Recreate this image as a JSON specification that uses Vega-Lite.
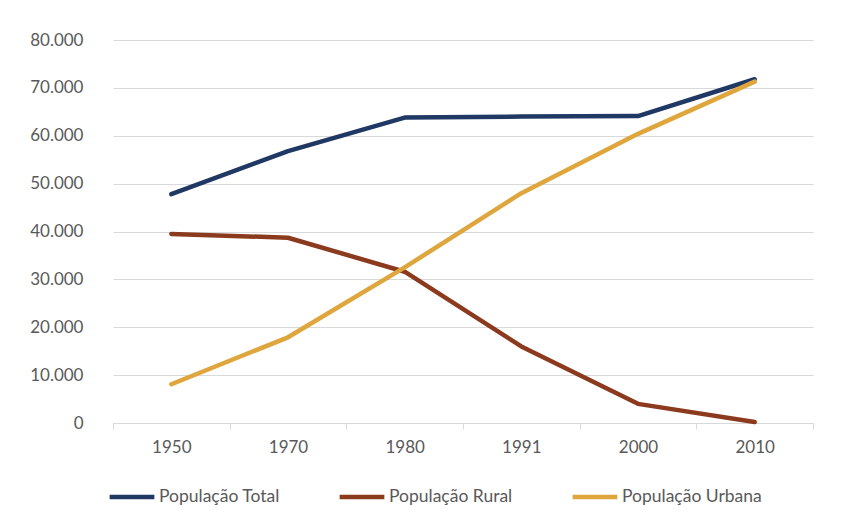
{
  "$schema": "https://vega.github.io/schema/vega-lite/v6.json",
  "width": 700,
  "height": 383,
  "autosize": {"type": "none"},
  "padding": {"left": 113, "top": 40, "right": 50, "bottom": 100},
  "background": "white",
  "config": {
    "view": {"stroke": null},
    "font": "Lato",
    "axis": {"labelFont": "Lato", "labelFontSize": 17, "labelColor": "#595959"},
    "legend": {"labelFont": "Lato", "labelFontSize": 17.5, "labelColor": "#595959"}
  },
  "data": {
    "values": [
      {"ano": "1950", "serie": "População Total", "valor": 47800},
      {"ano": "1970", "serie": "População Total", "valor": 56800},
      {"ano": "1980", "serie": "População Total", "valor": 63800},
      {"ano": "1991", "serie": "População Total", "valor": 64000},
      {"ano": "2000", "serie": "População Total", "valor": 64100},
      {"ano": "2010", "serie": "População Total", "valor": 71800},
      {"ano": "1950", "serie": "População Rural", "valor": 39500},
      {"ano": "1970", "serie": "População Rural", "valor": 38700},
      {"ano": "1980", "serie": "População Rural", "valor": 31600},
      {"ano": "1991", "serie": "População Rural", "valor": 16000},
      {"ano": "2000", "serie": "População Rural", "valor": 4000},
      {"ano": "2010", "serie": "População Rural", "valor": 200},
      {"ano": "1950", "serie": "População Urbana", "valor": 8100},
      {"ano": "1970", "serie": "População Urbana", "valor": 17900},
      {"ano": "1980", "serie": "População Urbana", "valor": 32500},
      {"ano": "1991", "serie": "População Urbana", "valor": 48000},
      {"ano": "2000", "serie": "População Urbana", "valor": 60400},
      {"ano": "2010", "serie": "População Urbana", "valor": 71300}
    ]
  },
  "mark": {"type": "line", "strokeWidth": 4.5, "strokeCap": "round", "strokeJoin": "round"},
  "encoding": {
    "x": {
      "field": "ano",
      "type": "ordinal",
      "scale": {"type": "band", "paddingInner": 0, "paddingOuter": 0},
      "axis": {
        "title": null,
        "labelAngle": 0,
        "grid": false,
        "domainColor": "#d9d9d9",
        "tickColor": "#d9d9d9",
        "tickBand": "extent",
        "tickSize": 6,
        "labelPadding": 10
      }
    },
    "y": {
      "field": "valor",
      "type": "quantitative",
      "scale": {"domain": [0, 80000], "nice": false},
      "axis": {
        "title": null,
        "values": [0, 10000, 20000, 30000, 40000, 50000, 60000, 70000, 80000],
        "labelExpr": "replace(format(datum.value, ','), ',', '.')",
        "domain": false,
        "ticks": false,
        "gridColor": "#d9d9d9",
        "labelPadding": 30
      }
    },
    "color": {
      "field": "serie",
      "type": "nominal",
      "scale": {
        "domain": ["População Total", "População Rural", "População Urbana"],
        "range": ["#1F3864", "#8B3A1E", "#DFA63E"]
      },
      "legend": {
        "title": null,
        "orient": "none",
        "direction": "horizontal",
        "legendX": -6,
        "legendY": 432,
        "symbolType": "stroke",
        "symbolSize": 2000,
        "symbolStrokeWidth": 4.5,
        "labelOffset": 2,
        "columnPadding": 50
      }
    }
  }
}
